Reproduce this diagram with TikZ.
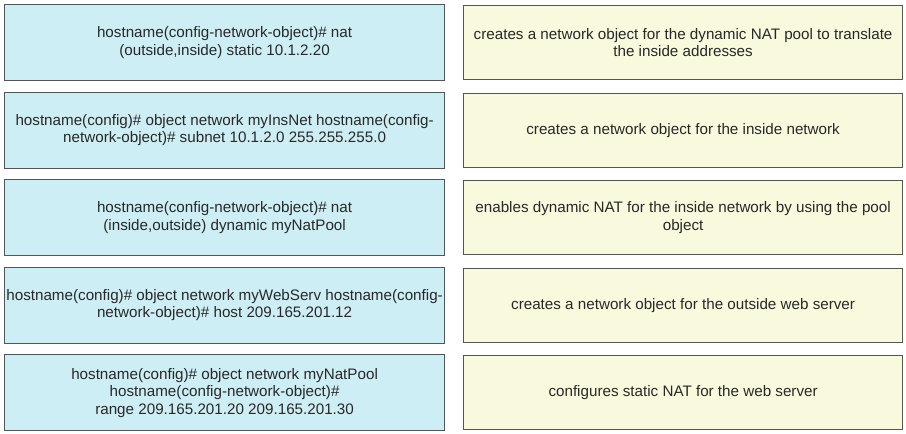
\documentclass[tikz,border=0pt]{standalone}
\usepackage{fontspec}
\setmainfont{Liberation Sans}
\definecolor{leftfill}{RGB}{206,238,245}
\definecolor{rightfill}{RGB}{249,249,222}
\definecolor{edge}{RGB}{85,85,85}
\definecolor{txt}{RGB}{40,40,40}
\begin{document}
\begin{tikzpicture}[x=1pt,y=-1pt,
  cmdbox/.style={draw=edge,line width=1.2pt,fill=leftfill,minimum width=440pt,minimum height=76pt,
    inner sep=0pt,align=center,text=txt,font=\fontsize{15.2}{17.5}\selectfont,anchor=north west},
  descbox/.style={draw=edge,line width=1.2pt,fill=rightfill,minimum width=439pt,minimum height=74pt,
    inner sep=0pt,align=center,text=txt,font=\fontsize{15.2}{17.5}\selectfont,anchor=north west}]
\useasboundingbox[fill=white] (0,0) rectangle (906,434);
\node[cmdbox] (c1) at (4,4) {hostname(config-network-object)\# nat\\(outside,inside) static 10.1.2.20};
\node[cmdbox] (c2) at (4,91.5) {hostname(config)\# object network myInsNet hostname(config-\\network-object)\# subnet 10.1.2.0 255.255.255.0};
\node[cmdbox] (c3) at (4,179) {hostname(config-network-object)\# nat\\(inside,outside) dynamic myNatPool};
\node[cmdbox] (c4) at (4,266.5) {hostname(config)\# object network myWebServ hostname(config-\\network-object)\# host 209.165.201.12};
\node[cmdbox] (c5) at (4,354) {hostname(config)\# object network myNatPool\\hostname(config-network-object)\#\\range 209.165.201.20 209.165.201.30};
\node[descbox] (d1) at (463,5) {creates a network object for the dynamic NAT pool to translate\\the inside addresses};
\node[descbox] (d2) at (463,92.5) {creates a network object for the inside network};
\node[descbox] (d3) at (463,180) {enables dynamic NAT for the inside network by using the pool\\object};
\node[descbox] (d4) at (463,267.5) {creates a network object for the outside web server};
\node[descbox] (d5) at (463,355) {configures static NAT for the web server};
\end{tikzpicture}
\end{document}
